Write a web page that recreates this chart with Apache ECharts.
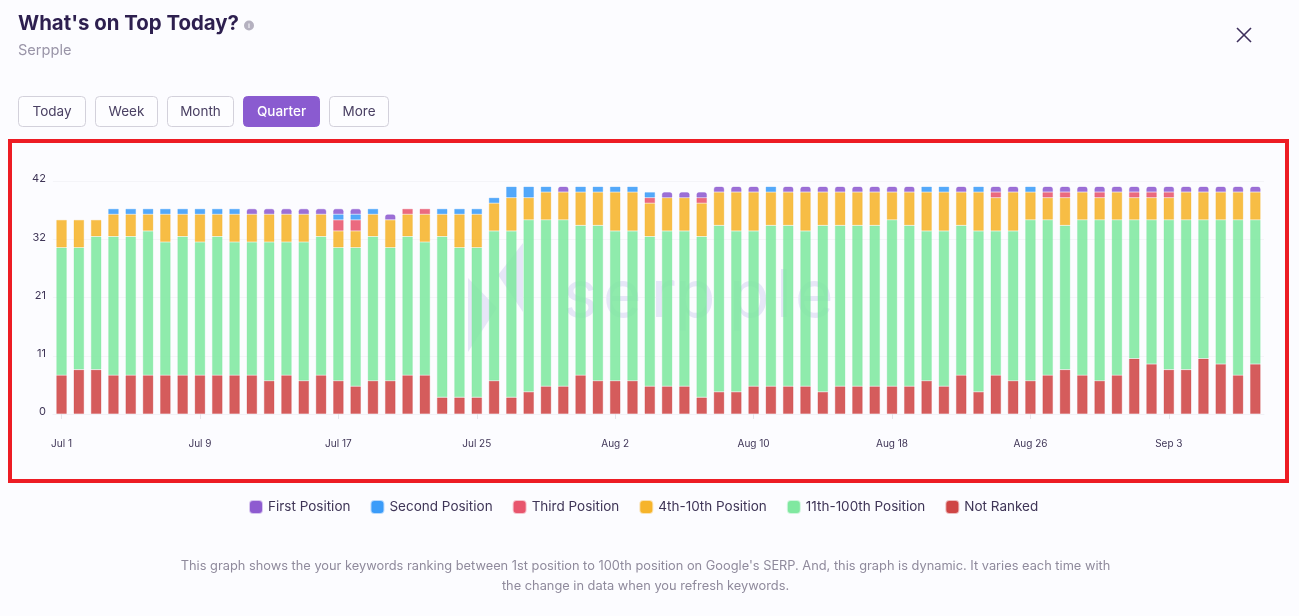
<!DOCTYPE html>
<html>
<head>
<meta charset="utf-8">
<style>html,body{margin:0;padding:0;background:#fcfcff}#c{width:1299px;height:616px}</style>
<script src="https://cdn.jsdelivr.net/npm/echarts@6/dist/echarts.min.js"></script>
</head>
<body>
<div id="c"></div>
<script>
const days = ["Jul 1","Jul 2","Jul 3","Jul 4","Jul 5","Jul 6","Jul 7","Jul 8","Jul 9","Jul 10","Jul 11","Jul 12","Jul 13","Jul 14","Jul 15","Jul 16","Jul 17","Jul 18","Jul 19","Jul 20","Jul 21","Jul 22","Jul 23","Jul 24","Jul 25","Jul 26","Jul 27","Jul 28","Jul 29","Jul 30","Jul 31","Aug 1","Aug 2","Aug 3","Aug 4","Aug 5","Aug 6","Aug 7","Aug 8","Aug 9","Aug 10","Aug 11","Aug 12","Aug 13","Aug 14","Aug 15","Aug 16","Aug 17","Aug 18","Aug 19","Aug 20","Aug 21","Aug 22","Aug 23","Aug 24","Aug 25","Aug 26","Aug 27","Aug 28","Aug 29","Aug 30","Aug 31","Sep 1","Sep 2","Sep 3","Sep 4","Sep 5","Sep 6","Sep 7","Sep 8"];
const notRanked = [7,8,8,7,7,7,7,7,7,7,7,7,6,7,6,7,6,5,6,6,7,7,3,3,3,6,3,4,5,5,7,6,6,6,5,5,5,3,4,4,5,5,5,5,4,5,5,5,5,5,6,5,7,4,7,6,6,7,8,7,6,7,10,9,8,8,10,9,7,9];
const pos11to100 = [23,22,24,25,25,26,24,25,24,25,24,24,25,24,25,25,24,25,26,24,25,24,29,27,27,27,30,31,30,30,27,28,27,27,27,28,28,29,30,29,28,29,29,28,30,29,29,29,30,29,27,28,27,29,26,27,29,28,26,28,29,28,25,26,27,27,25,26,28,26];
const pos4to10 = [5,5,3,4,4,3,5,4,5,4,5,5,5,5,5,4,3,3,4,5,4,5,4,6,6,5,6,4,5,5,6,6,7,7,6,6,6,6,6,7,7,6,6,7,6,6,6,6,5,6,7,7,6,7,6,7,5,4,5,5,4,5,4,4,4,5,5,5,5,5];
const third = [0,0,0,0,0,0,0,0,0,0,0,0,0,0,0,0,2,2,0,0,1,1,0,0,0,0,0,0,0,0,0,0,0,0,1,0,0,1,0,0,0,0,0,0,0,0,0,0,0,0,0,0,0,0,1,0,0,1,1,0,1,0,1,1,1,0,0,0,0,0];
const second = [0,0,0,1,1,1,1,1,1,1,1,0,0,0,0,0,1,1,1,0,0,0,1,1,1,1,2,2,1,0,1,1,1,1,1,0,0,0,0,0,0,1,0,0,0,0,0,0,0,0,1,1,0,1,0,0,1,0,0,0,0,0,0,0,0,0,0,0,0,0];
const first = [0,0,0,0,0,0,0,0,0,0,0,1,1,1,1,1,1,1,0,1,0,0,0,0,0,0,0,0,0,1,0,0,0,0,0,1,1,1,1,1,1,0,1,1,1,1,1,1,1,1,0,0,1,0,1,1,0,1,1,1,1,1,1,1,1,1,1,1,1,1];
const yMax = 42, yStep = 10.5;
const legendOrder = ["First Position","Second Position","Third Position","4th-10th Position","11th-100th Position","Not Ranked"];
const ranges = ["Today","Week","Month","Quarter","More"];
const activeRange = "Quarter";
const titleText = "What's on Top Today?";
const subtitleText = "Serpple";
const watermarkLetters = ["s","e","r","p","p","l","e"];
const noteLines = ["This graph shows the your keywords ranking between 1st position to 100th position on Google's SERP. And, this graph is dynamic. It varies each time with","the change in data when you refresh keywords."];

const FONT = 'Inter, "Noto Sans", sans-serif';
const palette = {first:'#8e5bd0',second:'#3b9cf9',third:'#e8556d',fourth:'#f6b42b',eleventh:'#80e8a0',none:'#cf4545'};
const BAR_OPACITY = 0.88;

function tint(hex,a){
  const n = parseInt(hex.slice(1),16);
  return 'rgba('+(n>>16)+','+((n>>8)&255)+','+(n&255)+','+a+')';
}
function bar(name, data, color, radius){
  return {
    name, type:'bar', stack:'total', data:data.map(v=>v===0?null:v), barWidth:10.7, z:3,
    itemStyle:{color, opacity:BAR_OPACITY, borderColor:tint(color,0.35), borderWidth:1, borderRadius:radius||0},
    emphasis:{disabled:true}
  };
}

const btnGeom = [[18,68],[95,63],[167,67],[243,77],[329,60]];
const buttons = [];
ranges.forEach((r,i)=>{
  const on = r===activeRange;
  buttons.push({type:'rect', z:5, shape:{x:btnGeom[i][0]+.5,y:96.5,width:btnGeom[i][1]-1,height:30,r:4},
    style:{fill:on?'#8a5bd0':'#fdfdff',stroke:on?'#8a5bd0':'#d3d1db',lineWidth:1}});
  buttons.push({type:'text', z:6, style:{x:btnGeom[i][0]+btnGeom[i][1]/2,y:111.5,text:r,fill:on?'#ffffff':'#4a4063',
    font:(on?'500 ':'400 ')+'13.5px '+FONT,align:'center',verticalAlign:'middle'}});
});
const wmX = [563,603,651,675,729,776,795];
const watermark = watermarkLetters.map((ch,i)=>({type:'text',z:1,
  style:{x:wmX[i],y:297,text:ch,fill:'#e6e6f7',font:'400 66px '+FONT,verticalAlign:'middle'}}));

const chart = echarts.init(document.getElementById('c'), null, {renderer:'canvas'});
chart.setOption({
  animation:false,
  backgroundColor:'#fcfcff',
  grid:{left:52.9,right:35,top:181,bottom:202,containLabel:false},
  legend:{
    data:legendOrder, left:249, top:500, padding:0, icon:'roundRect', itemWidth:12, itemHeight:12, itemGap:20,
    selectedMode:false,
    itemStyle:{opacity:1},
    textStyle:{color:'#3f3557',fontSize:13.5,fontFamily:FONT,padding:[0,0,0,1]}
  },
  xAxis:{
    type:'category', data:days, boundaryGap:true,
    axisLine:{show:true,lineStyle:{color:'#f1f1f6'}},
    axisTick:{show:true,alignWithLabel:true,interval:7,length:5,lineStyle:{color:'#e4e4ea'}},
    axisLabel:{interval:7,margin:25,color:'#3f3557',fontSize:10,fontFamily:FONT},
    splitLine:{show:false}
  },
  yAxis:{
    type:'value', min:0, max:yMax, interval:yStep,
    axisLine:{show:false}, axisTick:{show:false},
    axisLabel:{margin:7,color:'#3f3557',fontSize:11,fontFamily:FONT,verticalAlign:'bottom',lineHeight:4,formatter:v=>String(Math.round(v))},
    splitLine:{lineStyle:{color:'#f4f4f8',width:1}}
  },
  series:[
    bar('Not Ranked',notRanked,palette.none),
    bar('11th-100th Position',pos11to100,palette.eleventh),
    bar('4th-10th Position',pos4to10,palette.fourth),
    bar('Third Position',third,palette.third),
    bar('Second Position',second,palette.second),
    bar('First Position',first,palette.first,[2,2,0,0])
  ],
  graphic:[
    {type:'text',z:5,style:{x:18,y:24,text:titleText,fill:'#2d1f4f',font:'700 20.4px '+FONT,verticalAlign:'middle'}},
    {type:'text',z:5,style:{x:18,y:50.5,text:subtitleText,fill:'#9a95a8',font:'400 14.6px '+FONT,verticalAlign:'middle'}},
    {type:'circle',z:5,shape:{cx:249,cy:25.5,r:5},style:{fill:'#b5b1c0'}},
    {type:'rect',z:6,shape:{x:248.4,y:23.5,width:1.2,height:4.5},style:{fill:'#f1f0f5'}},
    {type:'line',z:5,shape:{x1:1237,y1:28,x2:1251,y2:42},style:{stroke:'#3d2f5c',lineWidth:1.6}},
    {type:'line',z:5,shape:{x1:1251,y1:28,x2:1237,y2:42},style:{stroke:'#3d2f5c',lineWidth:1.6}},
    ...buttons,
    {type:'rect',z:1,shape:{x:10,y:141,width:1277,height:340},style:{fill:'none',stroke:'#ed1c24',lineWidth:4}},
    {type:'polygon',z:1,shape:{points:[[468,278],[497,308],[468,352]]},style:{fill:'#e6e6f7'}},
    {type:'polygon',z:1,shape:{points:[[523,243],[498,275],[523,312]]},style:{fill:'#e6e6f7'}},
    ...watermark,
    {type:'text',z:5,style:{x:645.5,y:566,text:noteLines[0],fill:'#8f8a9c',font:'400 12.82px '+FONT,align:'center',verticalAlign:'middle'}},
    {type:'text',z:5,style:{x:645.5,y:586,text:noteLines[1],fill:'#8f8a9c',font:'400 12.82px '+FONT,align:'center',verticalAlign:'middle'}}
  ]
});
</script>
</body>
</html>
